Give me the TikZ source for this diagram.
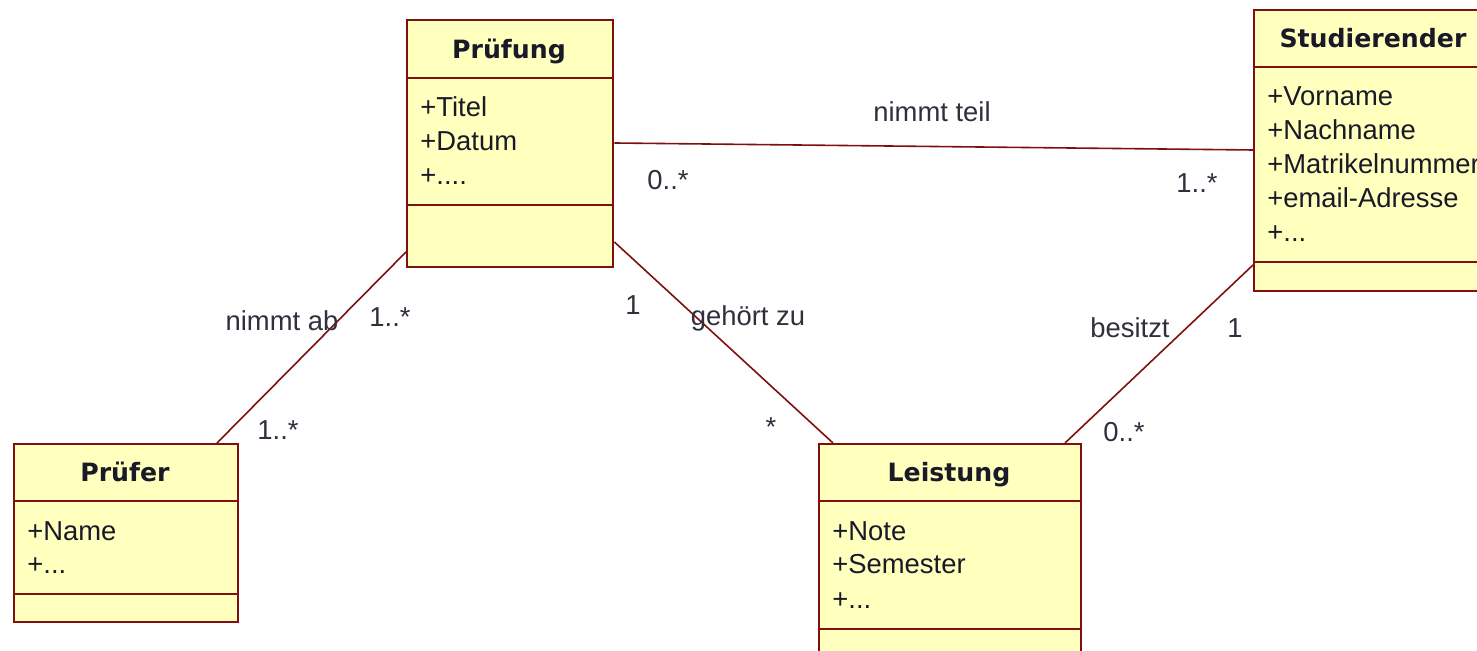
\documentclass[tikz,border=0pt]{standalone}
\usepackage{fontspec}
\setmainfont{Liberation Sans}
\newfontfamily\titlefont{DejaVu Sans}
\usetikzlibrary{calc}
\definecolor{umlborder}{RGB}{128,16,16}
\definecolor{umlfill}{RGB}{255,255,190}
\definecolor{umltext}{RGB}{25,25,40}
\tikzstyle{classbox}=[draw=umlborder,fill=umlfill,line width=1.2pt,inner sep=0pt]
\tikzstyle{classline}=[umlborder,line width=1.2pt]
\tikzstyle{classtitle}=[font=\titlefont\bfseries\fontsize{12.6}{15}\selectfont,text=umltext,anchor=base,inner sep=0pt]
\tikzstyle{classattr}=[font=\fontsize{13.7}{17}\selectfont,text=umltext,anchor=base west,inner sep=0pt]
\tikzstyle{assoc}=[umlborder,line width=0.8pt]
\tikzstyle{assoclabel}=[font=\fontsize{13.7}{17}\selectfont,text=umltext!90,inner sep=0pt]
\newcommand{\drawclass}[9]{

\pgfmathsetmacro{\boxw}{(#4-#2)*0.5}
\pgfmathsetmacro{\boxh}{(#5-#3)*0.5}
\node[classbox,anchor=north west,minimum width=\boxw pt,minimum height=\boxh pt] (#1) at (#2,#3) {};
\draw[classline] (#2,#6) -- (#4,#6);
\draw[classline] (#2,#7) -- (#4,#7);
\node[classtitle] (#1-title) at ({(#2+#4)/2},{#6-19}) {#8};
    \foreach \field [count=\i] in {#9} {
      \node[classattr] (#1-attr\i) at ({#2+14},{#6+39+(\i-1)*34}) {\field};
    }

}

\begin{document}
\begin{tikzpicture}[x=0.5pt,y=-0.5pt]
  \useasboundingbox (0,0) rectangle (1477,651);
  \fill[white] (0,0) rectangle (1477,651);
  \clip (0,0) rectangle (1477,651);
  \begin{scope}
  \drawclass{pruefung}{406}{19}{612}{266}{78}{205}{Prüfung}{+Titel,+Datum,+.{}.{}.{}.}
  \drawclass{studierender}{1253}{9}{1493}{290}{67}{262}{Studierender}{+Vorname,+Nachname,+Matrikelnummer,+email-Adresse,+.{}.{}.}
  \drawclass{pruefer}{13}{443}{237}{621}{501}{594}{Prüfer}{+Name,+.{}.{}.}
  \drawclass{leistung}{818}{443}{1080}{680}{501}{629}{Leistung}{+Note,+Semester,+.{}.{}.}
  \draw[assoc] ($(pruefung.north east)+(0,124)$) -- ($(studierender.north west)+(0,141)$); %nimmt teil
  \draw[assoc] ($(pruefung.north west)+(0,233)$) -- ($(pruefer.north west)+(204,0)$); %nimmt ab
  \draw[assoc] ($(pruefung.north east)+(0,223)$) -- ($(leistung.north west)+(15,0)$); %gehoert zu
  \draw[assoc] ($(studierender.north west)+(0,256)$) -- ($(leistung.north west)+(247,0)$); %besitzt
  \node[assoclabel] (teil) at (932,112) {nimmt teil};
  \node[assoclabel] (teil-a) at (668,180) {0..*};
  \node[assoclabel] (teil-b) at (1197,183) {1..*};
  \node[assoclabel] (ab) at (282,321) {nimmt ab};
  \node[assoclabel] (ab-a) at (390,317) {1..*};
  \node[assoclabel] (ab-b) at (278,430) {1..*};
  \node[assoclabel] (zu) at (748,318) {gehört zu};
  \node[assoclabel] (zu-a) at (633,305) {1};
  \node[assoclabel] (zu-b) at (771,427) {*};
  \node[assoclabel] (besitzt) at (1130,328) {besitzt};
  \node[assoclabel] (besitzt-a) at (1235,328) {1};
  \node[assoclabel] (besitzt-b) at (1124,432) {0..*};
  \end{scope}
\end{tikzpicture}
\end{document}
